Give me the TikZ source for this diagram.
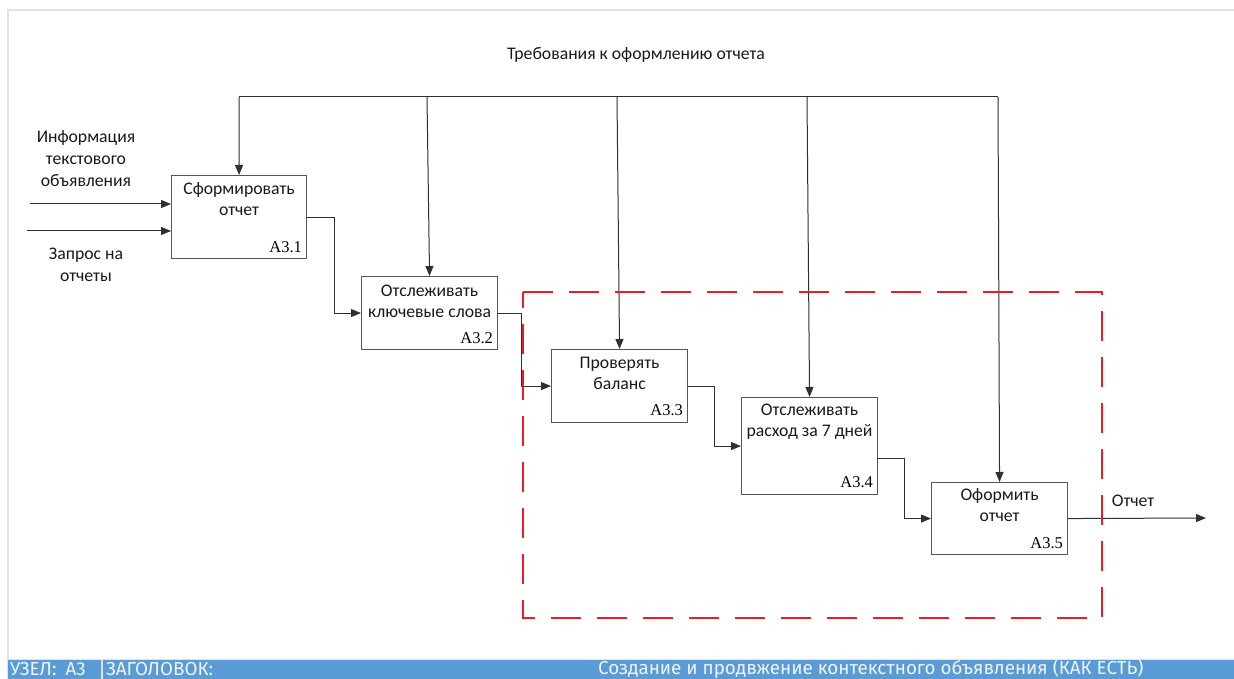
\documentclass[tikz,border=0pt]{standalone}
\usepackage{fontspec}
\setmainfont{Carlito}
\newfontfamily\lblfont{Liberation Serif}
\newfontfamily\barfont{Fira Sans}
\usetikzlibrary{arrows.meta,calc}
\definecolor{linec}{HTML}{303030}
\definecolor{boxc}{HTML}{555555}
\definecolor{redc}{RGB}{237,28,36}
\definecolor{barc}{HTML}{5B9BD5}
\definecolor{bartext}{HTML}{EEF4FB}
\definecolor{framec}{HTML}{E2E2E2}
\tikzset{
  box/.style={draw=boxc, line width=1.1pt, fill=white, minimum width=135pt, anchor=north west, inner sep=0pt},
  boxtext/.style={align=center, font=\fontsize{17.7}{21}\selectfont, inner sep=0pt, text=black!90},
  boxlbl/.style={anchor=east, inner sep=0pt, font=\lblfont\fontsize{16.5}{18}\selectfont},
  plain/.style={align=center, font=\fontsize{17.7}{22}\selectfont, inner sep=0pt, text=black!90},
  arr/.style={draw=linec, line width=1pt, -{Triangle[length=10pt,width=8pt]}},
  ln/.style={draw=linec, line width=1pt},
  bartxt/.style={anchor=west, inner sep=0pt, text=bartext, font=\barfont\fontsize{18.8}{20}\selectfont}
}
\begin{document}
\begin{tikzpicture}[x=1pt,y=-1pt]
\useasboundingbox (0,0) rectangle (1234,679);
\fill[white] (0,0) rectangle (1234,679);
% frame
\draw[framec, line width=1.5pt] (8,679) -- (8,10) -- (1234,10);
% boxes
\node[box, minimum height=83pt] (a1) at (171,175) {};
\node[box, minimum height=73pt, minimum width=136pt] (a2) at (361,276) {};
\node[box, minimum height=73pt, minimum width=136pt] (a3) at (551,349) {};
\node[box, minimum height=97pt, minimum width=136pt] (a4) at (741,397) {};
\node[box, minimum height=72pt, minimum width=136pt] (a5) at (931,482) {};
% box texts
\node[boxtext] (t1) at ($(a1.north)+(0,24.5)$) {Сформировать\\отчет};
\node[boxtext] (t2) at ($(a2.north)+(0,25.5)$) {Отслеживать\\ключевые слова};
\node[boxtext] (t3) at ($(a3.north)+(0,24.5)$) {Проверять\\баланс};
\node[boxtext] (t4) at ($(a4.north)+(0,24.5)$) {Отслеживать\\расход за 7 дней};
\node[boxtext] (t5) at ($(a5.north)+(0,23.5)$) {Оформить\\отчет};
% labels
\node[boxlbl] (l1) at ($(a1.south east)+(-5,-12)$) {A3.1};
\node[boxlbl] (l2) at ($(a2.south east)+(-5,-12)$) {A3.2};
\node[boxlbl] (l3) at ($(a3.south east)+(-5,-13)$) {A3.3};
\node[boxlbl] (l4) at ($(a4.south east)+(-5,-13)$) {A3.4};
\node[boxlbl] (l5) at ($(a5.south east)+(-5,-12)$) {A3.5};
% control
\node[plain] (ctl) at (636,55) {Требования к оформлению отчета};
\coordinate (k1) at (239,97);
\coordinate (k2) at (427,97);
\coordinate (k3) at (617,97);
\coordinate (k4) at (807,97);
\coordinate (k5) at (998,97);
\draw[ln] (k1) -- (k5);
\draw[arr] (k1) -- (a1.north);
\draw[arr] (k2) -- (a2.north);
\draw[arr] (k3) -- (a3.north);
\draw[arr] (k4) -- (a4.north);
\draw[arr] (k5) -- (a5.north);
% inputs
\node[plain] (in1t) at (86,159) {Информация\\текстового\\объявления};
\node[plain] (in2t) at (86,264.5) {Запрос на\\отчеты};
\coordinate (in1) at (30,204);
\coordinate (in2) at (27,231);
\draw[arr] (in1) -- (in1 -| a1.west);
\draw[arr] (in2) -- (in2 -| a1.west);
% flow
\draw[arr] (a1.east) -- ++(27,0) |- (a2.west);
\draw[arr] (a2.east) -- ++(23,0) |- (a3.west);
\draw[arr] (a3.east) -- ++(26,0) |- (a4.west);
\coordinate (a4o) at (877,458);
\draw[arr] (a4o) -- ++(27,0) |- (a5.west);
\coordinate (out) at (1206,518);
\draw[arr] (a5.east) -- (out);
\node[plain] (outt) at (1133,501) {Отчет};
% red dashed region
\draw[redc, line width=2pt, dash pattern=on 30pt off 16pt] (523,292) -- (1102,292) -- (1102,618) -- (523,618) -- cycle;
% bottom bar
\fill[barc] (8,659) rectangle (1234,679);
\draw[framec, line width=1pt] (8,659) -- (1234,659);
\draw[framec, line width=1.5pt] (102,659) -- (102,679);
\node[bartxt] (b1) at (10,669) {УЗЕЛ:\hspace{9pt}A3};
\node[bartxt] (b2) at (106,669) {ЗАГОЛОВОК:};
\node[bartxt] (b3) at (598,669) {Создание и продвжение контекстного объявления (КАК ЕСТЬ)};
\end{tikzpicture}
\end{document}
